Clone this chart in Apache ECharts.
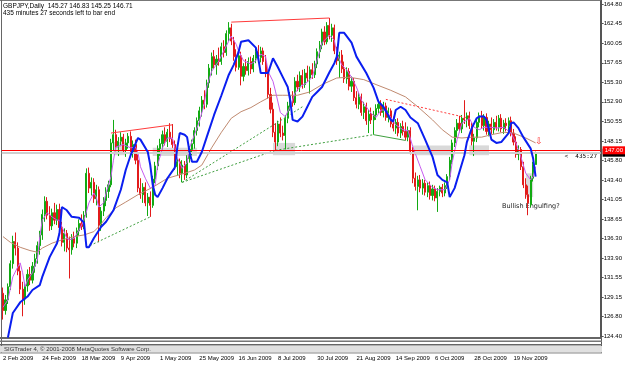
<!DOCTYPE html>
<html>
<head>
<meta charset="utf-8">
<title>GBPJPY Daily</title>
<script src="https://cdn.jsdelivr.net/npm/echarts@6/dist/echarts.min.js"></script>
<style>
  html, body { margin: 0; padding: 0; background: #fff; }
  #chart { width: 625px; height: 365px; }
</style>
</head>
<body>
<div id="chart"></div>
<script>
// daily bars, one row per trading day from 2 Feb 2009: [open, high, low, close]
const bars = [
  [129.6,130.3,126.4,127.5],[127.5,129.4,127.0,128.8],[128.8,130.8,128.3,130.4],[130.4,133.6,130.0,133.2],
  [133.2,136.6,132.6,135.9],[135.9,137.0,134.2,135.1],[135.1,135.8,131.8,132.3],[132.3,133.0,129.5,130.1],
  [130.1,131.0,126.8,128.9],[128.9,130.9,128.2,130.5],[130.5,132.5,129.8,131.9],[131.9,132.8,130.6,131.2],
  [131.2,133.4,130.8,132.9],[132.9,134.4,132.1,133.8],[133.8,135.9,133.2,135.4],[135.4,137.2,134.3,136.7],
  [136.7,139.8,136.1,139.2],[139.2,141.4,138.3,140.8],[140.8,141.3,138.6,139.1],[139.1,140.2,137.2,137.8],
  [137.8,139.9,137.3,139.4],[139.4,140.6,138.0,138.5],[138.5,140.4,137.9,139.8],[139.8,140.5,137.2,137.6],
  [137.6,138.3,135.3,135.8],[135.8,137.5,134.7,136.9],[136.9,137.3,134.6,135.1],[135.1,136.5,131.4,134.9],
  [134.9,136.8,134.3,136.3],[136.3,137.1,135.2,135.7],[135.7,137.6,135.1,137.2],[137.2,138.6,136.6,138.1],
  [138.1,139.2,137.3,137.7],[137.7,139.6,137.4,139.1],[139.1,144.8,138.8,144.2],[144.2,144.9,141.8,142.4],
  [142.4,143.7,141.5,143.1],[143.1,143.6,140.6,141.1],[141.1,142.8,140.3,142.2],[142.2,142.6,135.8,137.9],
  [137.9,140.1,137.2,139.6],[139.6,141.3,139.0,140.9],[140.9,142.5,140.2,142.0],[142.0,143.3,141.2,142.8],
  [142.8,148.4,142.5,147.9],[147.9,150.7,147.0,148.9],[148.9,149.5,146.9,147.4],[147.4,148.6,146.3,148.1],
  [148.1,149.2,147.5,148.6],[148.6,149.0,146.6,147.0],[147.0,148.4,146.2,147.9],[147.9,149.1,147.2,148.7],
  [148.7,149.3,146.4,146.8],[146.8,148.2,146.1,147.7],[147.7,148.3,145.3,145.8],[145.8,146.5,141.9,142.4],
  [142.4,143.6,141.1,141.6],[141.6,143.0,140.6,142.5],[142.5,143.1,140.2,140.6],[140.6,141.8,139.0,141.3],
  [141.3,142.0,138.9,140.3],[140.3,143.9,140.0,143.5],[143.5,145.6,143.0,145.1],[145.1,147.6,144.6,147.2],
  [147.2,148.4,146.3,147.8],[147.8,149.4,147.1,148.9],[148.9,149.8,147.6,148.1],[148.1,149.6,147.4,149.2],
  [149.2,150.3,148.0,148.4],[148.4,150.2,147.3,147.7],[147.7,148.2,144.6,145.0],[145.0,146.1,143.9,145.6],
  [145.6,146.0,143.6,144.2],[144.2,145.8,143.1,145.2],[145.2,145.7,143.4,144.0],[144.0,146.4,143.6,146.0],
  [146.0,147.5,145.5,147.1],[147.1,148.3,146.4,147.8],[147.8,149.8,147.2,149.4],[149.4,151.0,148.8,150.6],
  [150.6,152.3,149.9,151.8],[151.8,153.6,151.1,153.1],[153.1,154.3,152.0,152.6],[152.6,155.6,152.2,155.2],
  [155.2,157.5,154.6,157.0],[157.0,158.9,156.1,158.4],[158.4,159.2,156.9,157.4],[157.4,158.6,156.2,158.1],
  [158.1,159.5,157.3,157.8],[157.8,160.1,157.4,159.6],[159.6,160.4,158.3,158.9],[158.9,161.6,158.5,161.2],
  [161.2,162.6,160.3,161.9],[161.9,162.4,159.8,160.3],[160.3,160.8,157.9,158.4],[158.4,159.3,156.6,157.1],
  [157.1,158.9,156.8,158.5],[158.5,159.0,154.9,156.0],[156.0,157.6,155.4,157.2],[157.2,158.1,156.2,156.7],
  [156.7,158.3,156.1,157.8],[157.8,158.4,156.3,156.9],[156.9,158.6,156.5,158.2],[158.2,159.4,157.6,159.0],
  [159.0,159.8,157.9,158.3],[158.3,159.6,157.7,159.1],[159.1,159.5,157.4,157.8],[157.8,158.6,155.9,156.4],
  [156.4,156.9,153.3,153.8],[153.8,154.6,151.5,152.0],[152.0,152.8,148.6,149.2],[149.2,150.3,147.0,148.0],
  [148.0,150.6,147.5,150.2],[150.2,151.0,148.6,149.1],[149.1,150.0,148.2,148.8],[148.8,151.3,147.1,150.9],
  [150.9,152.9,150.3,152.4],[152.4,154.1,151.8,153.6],[153.6,154.2,152.3,152.8],[152.8,155.9,152.5,155.4],
  [155.4,156.2,154.2,154.7],[154.7,156.6,154.1,156.1],[156.1,156.8,154.5,155.0],[155.0,156.9,154.6,156.4],
  [156.4,157.3,155.3,155.8],[155.8,157.2,153.9,156.8],[156.8,157.6,155.7,156.2],[156.2,157.9,155.8,157.5],
  [157.5,159.4,157.0,159.0],[159.0,160.3,158.2,159.8],[159.8,161.8,159.3,161.4],[161.4,162.1,159.8,160.2],
  [160.2,162.6,159.9,162.2],[162.2,163.1,160.5,161.0],[161.0,162.4,160.2,161.9],[161.9,162.3,158.7,159.1],
  [159.1,159.6,157.4,157.9],[157.9,159.0,155.8,158.6],[158.6,159.2,156.4,156.9],[156.9,157.8,155.2,155.7],
  [155.7,157.1,155.1,156.6],[156.6,157.0,154.3,154.8],[154.8,156.0,154.1,155.4],[155.4,155.8,153.0,153.4],
  [153.4,154.2,152.1,152.6],[152.6,154.0,152.0,153.5],[153.5,153.9,151.2,151.6],[151.6,152.9,150.8,152.3],
  [152.3,152.8,150.1,150.6],[150.6,151.9,149.1,151.4],[151.4,152.2,150.2,150.7],[150.7,151.8,148.9,151.3],
  [151.3,152.6,150.7,152.1],[152.1,153.0,151.5,152.6],[152.6,153.1,151.2,151.6],[151.6,152.9,151.0,152.4],
  [152.4,152.8,150.6,151.0],[151.0,152.2,150.4,151.8],[151.8,152.1,149.8,150.2],[150.2,151.1,149.3,149.7],
  [149.7,150.8,149.0,150.4],[150.4,150.9,148.7,149.1],[149.1,150.3,148.5,149.9],[149.9,150.6,148.8,149.3],
  [149.3,150.4,148.2,148.6],[148.6,149.9,148.1,149.4],[149.4,149.8,146.5,146.9],[146.9,147.4,143.0,143.6],
  [143.6,144.3,142.1,142.6],[142.6,143.9,139.7,143.4],[143.4,144.0,141.9,142.4],[142.4,143.5,141.6,143.0],
  [143.0,143.4,141.5,141.9],[141.9,143.1,141.3,142.7],[142.7,143.2,141.0,141.5],[141.5,142.8,140.9,142.3],
  [142.3,142.7,140.8,141.2],[141.2,142.4,139.5,142.0],[142.0,142.7,141.4,142.5],[142.5,142.9,141.3,141.8],
  [141.8,143.1,141.4,142.7],[142.7,144.1,142.3,143.8],[143.8,146.2,143.4,145.8],[145.8,148.3,145.3,147.9],
  [147.9,149.8,147.4,149.4],[149.4,150.8,148.6,150.3],[150.3,151.2,149.2,149.6],[149.6,151.3,149.1,150.9],
  [150.9,153.1,150.2,150.7],[150.7,151.6,149.8,151.2],[151.2,151.7,149.6,150.0],[150.0,150.4,147.6,148.1],
  [148.1,149.0,146.3,148.5],[148.5,150.8,148.0,150.4],[150.4,151.6,149.8,151.2],[151.2,151.8,149.6,150.0],
  [150.0,151.4,149.4,151.0],[151.0,151.5,148.9,149.3],[149.3,150.6,148.7,150.2],[150.2,151.0,149.0,149.5],
  [149.5,150.8,149.0,150.4],[150.4,151.2,149.4,149.8],[149.8,151.3,149.3,150.9],[150.9,151.4,149.2,149.6],
  [149.6,150.7,149.0,150.3],[150.3,150.9,149.3,150.0],[150.0,151.0,149.4,150.6],[150.6,151.1,148.7,149.1],
  [149.1,149.6,147.6,148.0],[148.0,148.7,146.1,146.5],[146.5,147.6,145.8,147.1],[147.1,147.4,144.6,145.0],
  [145.0,145.6,142.4,142.8],[142.8,143.6,141.1,141.6],[141.6,142.7,139.1,140.6],[140.4,143.9,140.1,143.6],
  [143.6,145.6,143.2,145.3],[145.27,146.83,145.25,146.71]
];

// indicator lines: [bar index, price]
const blueLine = [
  [2,124.2],[4,127.2],[7,128.5],[10,129.2],[12,130.0],[15,130.6],[16,131.6],[19,134.0],[22,135.7],[23,136.9],
  [24,140.1],[26,139.7],[28,138.9],[31,138.8],[33,138.2],[34,135.2],[35,135.2],[37,136.3],[40,137.7],[42,138.3],
  [45,139.7],[48,142.2],[50,144.6],[52,146.4],[55,148.5],[56,148.3],[59,146.8],[60,145.2],[61,142.8],[62,141.6],
  [63,141.3],[65,142.4],[67,143.6],[70,144.9],[71,147.3],[72,149.1],[74,148.9],[75,148.6],[76,146.8],[77,145.6],
  [79,145.6],[81,146.8],[83,148.6],[86,151.3],[89,153.7],[92,156.2],[94,157.4],[96,159.0],[97,160.2],[100,160.4],
  [103,159.5],[104,158.2],[105,156.4],[108,156.4],[110,158.2],[112,157.1],[114,155.9],[116,154.7],[117,153.1],[118,150.7],
  [120,150.5],[122,151.1],[124,152.3],[126,153.5],[128,154.1],[130,154.7],[133,156.5],[135,157.6],[136,158.4],[137,161.3],
  [139,161.3],[142,160.1],[144,158.4],[148,156.4],[151,154.6],[153,152.9],[155,152.3],[158,150.7],[159,150.5],[160,151.9],
  [162,152.3],[164,151.9],[166,151.0],[169,150.3],[172,148.3],[175,146.2],[177,144.0],[179,143.4],[181,143.1],[182,141.3],
  [184,142.4],[186,144.4],[188,146.4],[189,148.0],[191,149.7],[193,150.9],[194,151.1],[196,151.1],[197,150.7],[198,149.5],
  [199,148.3],[201,147.9],[203,148.0],[206,149.1],[207,150.3],[208,150.4],[210,149.7],[212,148.6],[215,147.2],[216,146.0],
  [217,143.8]
];
const violetLine = [
  [0,127.9],[2,128.8],[4,131.6],[6,132.8],[7,133.3],[8,132.1],[9,130.4],[10,131.2],[12,132.1],[14,133.7],
  [15,136.5],[16,138.5],[18,139.4],[20,138.9],[22,138.5],[23,138.5],[24,137.7],[26,136.3],[27,136.1],[29,136.3],
  [31,137.3],[33,138.5],[35,140.6],[37,141.8],[38,141.3],[39,140.1],[41,140.6],[42,141.8],[44,143.8],[45,145.8],
  [46,147.4],[49,147.7],[52,147.3],[54,147.4],[55,146.7],[56,145.0],[58,143.6],[60,142.4],[62,142.8],[63,145.2],
  [65,147.3],[67,148.5],[69,148.5],[70,147.3],[71,146.1],[73,144.8],[75,145.5],[76,147.3],[78,148.9],[80,150.5],
  [82,152.6],[83,154.7],[85,156.6],[88,157.9],[90,159.1],[92,160.3],[93,160.9],[95,159.9],[96,159.1],[98,157.9],
  [101,157.5],[103,157.9],[105,158.7],[107,158.4],[108,156.6],[110,155.4],[111,154.2],[113,151.6],[115,151.1],[117,152.3],
  [119,154.0],[121,154.7],[124,155.3],[126,155.9],[128,158.0],[130,160.1],[133,161.0],[135,160.4],[136,158.8],[138,157.4],
  [140,156.8],[142,155.9],[144,154.7],[146,153.1],[148,152.3],[150,151.5],[152,151.0],[154,151.9],[156,151.9],[158,151.0],
  [160,150.1],[163,149.5],[165,149.4],[167,147.4],[170,145.0],[172,143.4],[175,142.5],[177,142.2],[180,142.2],[182,143.4],
  [183,145.5],[185,148.3],[187,150.3],[190,150.9],[192,149.8],[194,149.5],[196,149.8],[199,149.8],[201,149.7],[204,149.8],
  [207,149.1],[209,147.9],[211,146.2],[213,144.2],[215,143.4],[216,143.8],[217,145.0]
];
const brownLine = [
  [0,136.5],[3,135.8],[7,135.2],[11,134.8],[14,134.6],[16,135.1],[20,135.7],[24,136.1],[29,136.5],[33,136.7],
  [37,137.1],[39,137.7],[42,138.8],[46,140.0],[50,140.7],[55,141.6],[61,142.5],[67,143.6],[74,144.2],[78,144.6],
  [81,145.2],[85,147.3],[89,149.2],[93,150.9],[97,151.7],[101,152.2],[105,152.9],[110,153.7],[114,153.7],[120,153.7],
  [125,154.1],[130,155.0],[136,155.8],[141,155.9],[147,155.6],[152,155.0],[158,154.3],[164,153.5],[169,152.3],[175,150.7],
  [179,149.5],[183,148.6],[187,148.5],[191,148.6],[195,148.6],[199,148.9],[204,149.2],[208,149.1],[213,148.5],[217,147.9]
];

// drawn objects: trend lines as [[bar, price], [bar, price]]
const redTrends = [[[44,149.1],[69,150.1]], [[93,162.6],[133,163.1]]];
const redDashTrends = [[[156,153.2],[190,150.9]]];
const greenDashTrends = [
  [[34,135.2],[60,138.9]], [[73,143.1],[122,152.3]], [[73,143.1],[111,147.0]], [[111,147.0],[151,148.9]]
];
const greenSolidTrends = [[[151,148.9],[164,148.2]]];
// shaded zones: [bar from, price top, bar to, price bottom]
const grayBoxes = [
  [45,148.0,50,146.4], [61,147.3,79,146.3], [110,147.9,119,146.4],
  [167,147.6,183,146.4], [190,147.6,198,146.4], [213,144.2,216,141.3]
];

const hLine = 147.00;
const bidPrice = 146.71;
const priceTicks = ['124.40','126.80','129.15','131.55','133.90','136.30','138.65','141.05','143.40',
  '145.80','148.15','150.55','152.90','155.30','157.65','160.05','162.45','164.80'];
const dateTicks = ['2 Feb 2009','24 Feb 2009','18 Mar 2009','9 Apr 2009','1 May 2009','25 May 2009',
  '16 Jun 2009','8 Jul 2009','30 Jul 2009','21 Aug 2009','14 Sep 2009','6 Oct 2009','28 Oct 2009','19 Nov 2009'];
const tickEvery = 16;   // bars between date labels
const slots = 244;      // bars + empty shift space on the right

const categories = [];
for (let i = 0; i < slots; i++) categories.push(i);

const FONT = '"Liberation Sans", Arial, sans-serif';

function trendSeries(list, color, type) {
  return list.map(seg => ({
    type: 'line',
    data: seg,
    symbol: 'none',
    silent: true,
    z: 4,
    lineStyle: { color: color, width: 1, type: type }
  }));
}

let chart = echarts.init(document.getElementById('chart'), null, { renderer: 'canvas' });

let option = {
  animation: false,
  backgroundColor: '#fff',
  grid: { left: 1.772, right: 23.97, top: 1, bottom: 28 },
  xAxis: {
    type: 'category',
    data: categories,
    boundaryGap: true,
    axisLine: { show: false },
    axisTick: { show: false },
    splitLine: { show: false },
    axisLabel: {
      interval: (index) => index % tickEvery === 0 && index / tickEvery < dateTicks.length,
      formatter: (value, index) => dateTicks[index / tickEvery] || '',
      align: 'left',
      margin: 18,
      fontSize: 6,
      fontFamily: FONT,
      color: '#000'
    }
  },
  yAxis: {
    type: 'value',
    position: 'right',
    min: 124.28,
    max: 165.17,
    splitLine: { show: false },
    axisLine: { show: true, lineStyle: { color: '#555' } },
    axisTick: { show: true, length: 3, customValues: priceTicks.map(Number), lineStyle: { color: '#555' } },
    axisLabel: {
      customValues: priceTicks.map(Number),
      formatter: (v) => v.toFixed(2),
      margin: 3,
      fontSize: 6,
      fontFamily: FONT,
      color: '#000'
    }
  },
  series: [
    {
      type: 'candlestick',
      data: bars.map(b => [b[0], b[3], b[2], b[1]]),
      barWidth: 1.6,
      z: 2,
      itemStyle: {
        color: '#12aa12', color0: '#e21b1b',
        borderColor: '#12aa12', borderColor0: '#e21b1b',
        borderWidth: 1
      },
      markArea: {
        silent: true,
        z: 1,
        itemStyle: { color: 'rgba(185,185,185,0.55)' },
        data: grayBoxes.map(b => [{ coord: [b[0], b[1]] }, { coord: [b[2], b[3]] }])
      },
      markLine: {
        silent: true,
        symbol: ['none', 'none'],
        data: [
          {
            yAxis: bidPrice,
            lineStyle: { color: '#cfcfcf', width: 2, type: 'solid' },
            label: {
              position: 'end', distance: 2, formatter: bidPrice.toFixed(2),
              color: '#fff', backgroundColor: '#000', padding: [1, 2],
              fontSize: 6, fontFamily: FONT
            }
          },
          {
            yAxis: hLine,
            lineStyle: { color: '#ff0000', width: 1, type: 'solid' },
            label: {
              position: 'end', distance: 2, formatter: hLine.toFixed(2),
              color: '#fff', backgroundColor: '#ff0000', padding: [1, 2],
              fontSize: 6, fontFamily: FONT
            }
          }
        ]
      }
    },
    { type: 'line', data: brownLine, symbol: 'none', silent: true, z: 3,
      lineStyle: { color: '#c08a70', width: 1 } },
    { type: 'line', data: violetLine, symbol: 'none', silent: true, z: 3,
      lineStyle: { color: '#c75cf0', width: 1 } },
    { type: 'line', data: blueLine, symbol: 'none', silent: true, z: 5,
      lineStyle: { color: '#0a1ef0', width: 2 } },
    ...trendSeries(redTrends, '#ff3b3b', 'solid'),
    ...trendSeries(redDashTrends, '#ff3b3b', [2, 2]),
    ...trendSeries(greenDashTrends, '#3f9f3f', [2, 2]),
    ...trendSeries(greenSolidTrends, '#3f9f3f', 'solid')
  ],
  graphic: [
    // window frame
    { type: 'line', silent: true, shape: { x1: 0, y1: 0.5, x2: 602, y2: 0.5 }, style: { stroke: '#777', lineWidth: 1 } },
    { type: 'line', silent: true, shape: { x1: 1.5, y1: 0, x2: 1.5, y2: 353 }, style: { stroke: '#666', lineWidth: 1 } },
    { type: 'line', silent: true, shape: { x1: 601.5, y1: 0, x2: 601.5, y2: 353 }, style: { stroke: '#555', lineWidth: 1 } },
    { type: 'rect', silent: true, shape: { x: 0, y: 337, width: 602, height: 2 }, style: { fill: '#666' } },
    { type: 'rect', silent: true, shape: { x: 0, y: 340.5, width: 602, height: 1.5 }, style: { fill: '#777' } },
    { type: 'rect', silent: true, shape: { x: 0, y: 344, width: 602, height: 1.5 }, style: { fill: '#666' } },
    { type: 'rect', silent: true, shape: { x: 0, y: 346, width: 602, height: 6.5 }, style: { fill: '#e0e0e0' } },
    { type: 'rect', silent: true, shape: { x: 0, y: 352.5, width: 602, height: 1 }, style: { fill: '#888' } },
    { type: 'text', silent: true, x: 4, y: 349.5,
      style: { text: 'SIGTrader 4, © 2001-2008 MetaQuotes Software Corp.', font: '6px ' + FONT,
               fill: '#333', textVerticalAlign: 'middle' } },
    // header
    { type: 'text', silent: true, x: 3, y: 6.5,
      style: { text: 'GBPJPY,Daily  145.27 146.83 145.25 146.71', font: '6.5px ' + FONT,
               fill: '#000', textVerticalAlign: 'middle' } },
    { type: 'text', silent: true, x: 3, y: 13.5,
      style: { text: '435 minutes 27 seconds left to bar end', font: '6.5px ' + FONT,
               fill: '#000', textVerticalAlign: 'middle' } },
    // annotations
    { type: 'text', silent: true, x: 597, y: 156.5,
      style: { text: '<  435:27', font: '6px "DejaVu Sans Mono", monospace',
               fill: '#000', textAlign: 'right', textVerticalAlign: 'middle' } },
    { type: 'text', silent: true, x: 502, y: 206.5,
      style: { text: 'Bullish Engulfing?', font: '6.5px "DejaVu Sans", sans-serif',
               fill: '#222', textVerticalAlign: 'middle' } },
    { type: 'text', silent: true, x: 539, y: 142,
      style: { text: '⇩', font: '9px "DejaVu Sans", sans-serif',
               fill: '#ff3030', textAlign: 'center', textVerticalAlign: 'middle' } }
  ]
};

chart.setOption(option, true);
</script>
</body>
</html>
